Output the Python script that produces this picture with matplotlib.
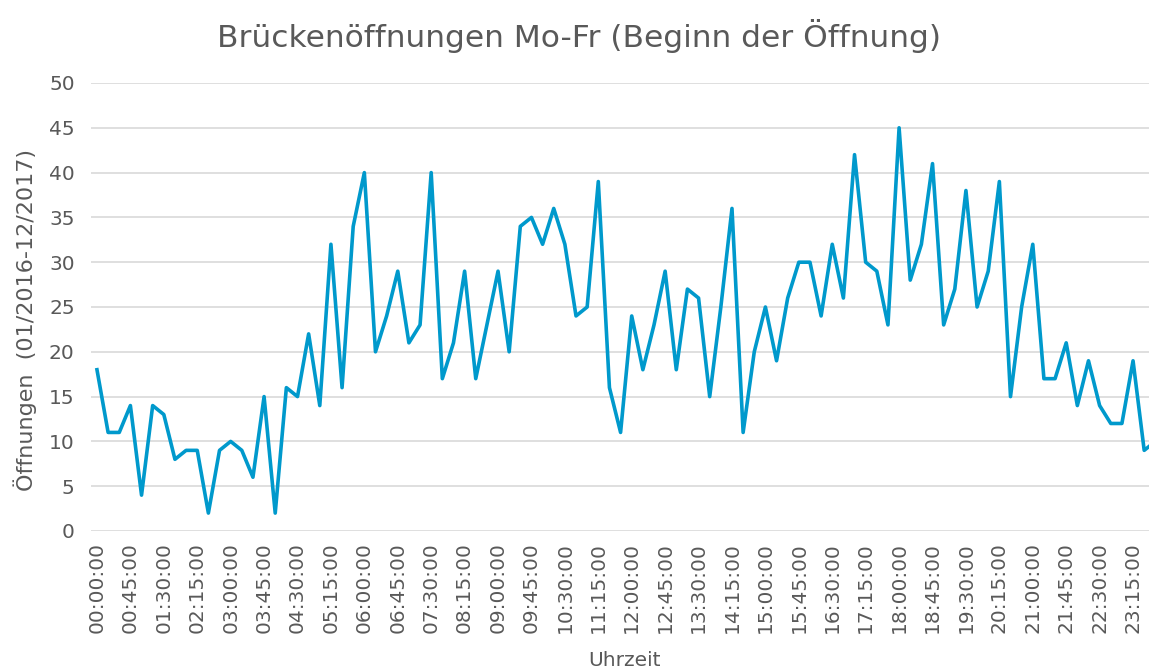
import matplotlib
matplotlib.use("Agg")
import matplotlib.pyplot as plt
import numpy as np

# Brückenöffnungen je Viertelstunde, Mo-Fr
uhrzeiten = ["%02d:%02d:00" % (h, m) for h in range(24) for m in (0, 15, 30, 45)]
oeffnungen = [18, 11, 11, 14, 4, 14, 13, 8, 9, 9, 2, 9,
              10, 9, 6, 15, 2, 16, 15, 22, 14, 32, 16, 34,
              40, 20, 24, 29, 21, 23, 40, 17, 21, 29, 17, 23,
              29, 20, 34, 35, 32, 36, 32, 24, 25, 39, 16, 11,
              24, 18, 23, 29, 18, 27, 26, 15, 25, 36, 11, 20,
              25, 19, 26, 30, 30, 24, 32, 26, 42, 30, 29, 23,
              45, 28, 32, 41, 23, 27, 38, 25, 29, 39, 15, 25,
              32, 17, 17, 21, 14, 19, 14, 12, 12, 19, 9, 10]

grau = "#595959"
blau = "#0099cc"

fig = plt.figure(figsize=(11.49, 6.71), dpi=100)
ax = fig.add_axes([91.4 / 1149, 1 - 531 / 671, (1160.9 - 91.4) / 1149, (531 - 83) / 671])

x = np.arange(len(oeffnungen))
ax.plot(x, oeffnungen, color=blau, linewidth=2.6, solid_joinstyle="round", zorder=3)

ax.set_xlim(-0.5, len(oeffnungen) - 0.5)
ax.set_ylim(0, 50)
ax.set_yticks(range(0, 51, 5))
ax.set_xticks(x[::3])
ax.set_xticklabels(uhrzeiten[::3], rotation=90)
ax.tick_params(axis="both", length=0, labelsize=14.5, colors=grau)
ax.tick_params(axis="x", pad=8)
ax.tick_params(axis="y", pad=12)
ax.grid(axis="y", color="#d9d9d9", linewidth=1.2)
for s in ax.spines.values():
    s.set_visible(False)

fig.text(579 / 1149, 1 - 36 / 671, "Brückenöffnungen Mo-Fr (Beginn der Öffnung)",
         ha="center", va="center", fontsize=22.5, color=grau)
fig.text(25 / 1149, 1 - 320 / 671, "Öffnungen  (01/2016-12/2017)", rotation=90,
         ha="center", va="center", fontsize=16, color=grau)
fig.text(624 / 1149, 1 - 661 / 671, "Uhrzeit", ha="center", va="center",
         fontsize=14.5, color=grau)

fig.savefig("out.png", dpi=100)
